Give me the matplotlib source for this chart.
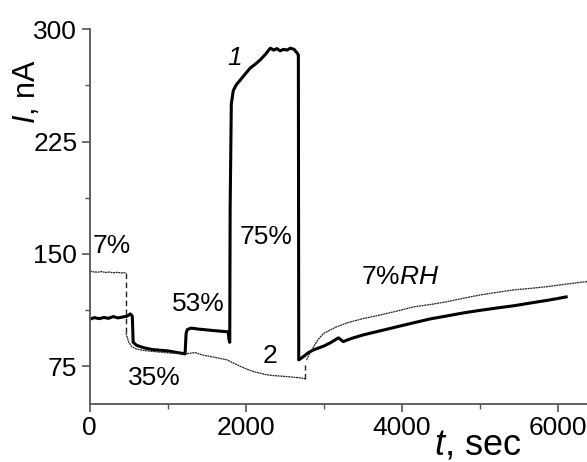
import numpy as np
import matplotlib
matplotlib.use("Agg")
from matplotlib import pyplot as plt
from matplotlib.ticker import MultipleLocator

plt.rcParams['font.family'] = ['Liberation Sans', 'DejaVu Sans']
plt.rcParams['mathtext.fontset'] = 'custom'
plt.rcParams['mathtext.rm'] = 'Liberation Sans'
plt.rcParams['mathtext.it'] = 'Liberation Sans:italic'

# curve 1 (thick)
t1 = [0, 60, 120, 180, 240, 300, 360, 420, 480, 520, 545, 556, 600, 700, 800,
      1000, 1222, 1235, 1250, 1300, 1400, 1600, 1775, 1785, 1795, 1800, 1815,
      1840, 1880, 1930, 2000, 2057, 2120, 2186, 2250, 2315, 2360, 2400, 2440,
      2486, 2530, 2572, 2620, 2660, 2675, 2680, 2700, 2740, 2800, 2870, 3000,
      3086, 3190, 3250, 3350, 3510, 3750, 3950, 4150, 4372, 4600, 4800, 5000,
      5233, 5450, 5660, 5900, 6110]
i1 = [106.5, 107.5, 106.8, 107.6, 107.0, 108.2, 107.3, 107.9, 108.5, 110.0, 108.5,
      91.0, 89.0, 87.3, 86.2, 85.3, 83.3, 97.0, 99.5, 100.5, 99.8, 98.8, 98.0,
      93.0, 91.0, 180.0, 250.0, 259.0, 263.0, 266.0, 270.5, 274.0, 276.5, 279.5,
      283.0, 287.3, 286.0, 287.0, 285.5, 286.5, 286.0, 287.3, 286.5, 284.0, 282.7,
      79.3, 80.0, 81.5, 84.0, 86.0, 88.5, 90.7, 94.0, 91.5, 93.5, 96.0, 99.0,
      101.5, 104.0, 106.7, 108.8, 110.7, 112.3, 114.0, 115.5, 117.3, 119.3, 121.3]

# curve 2 (thin), plateau before the first switch
t2a = [0, 50, 100, 150, 200, 250, 300, 350, 400, 463]
i2a = [138.5, 138.0, 137.8, 138.2, 137.6, 137.9, 137.4, 137.7, 137.3, 137.5]
# curve 2 between the switches
t2b = [463, 500, 540, 600, 700, 800, 1000, 1222, 1300, 1350, 1450, 1600, 1760,
       1850, 1930, 2020, 2100, 2200, 2276, 2360, 2443, 2600, 2700, 2765]
i2b = [97.0, 91.0, 88.0, 86.5, 85.5, 85.0, 84.0, 83.3, 83.8, 84.2, 82.5, 81.0,
       79.3, 77.0, 75.0, 73.0, 71.5, 70.2, 69.3, 68.8, 68.5, 67.8, 67.3, 66.7]
# curve 2 after the last switch
t2c = [2780, 2820, 2870, 2930, 3000, 3150, 3300, 3500, 3730, 3950, 4156, 4400,
       4590, 4800, 5015, 5240, 5440, 5650, 5877, 6100, 6390]
i2c = [79.3, 83.5, 88.0, 93.0, 97.0, 101.0, 104.0, 106.8, 109.3, 112.0, 114.7,
       116.5, 118.2, 120.5, 122.7, 124.5, 126.0, 127.0, 128.2, 129.8, 131.6]
# dashed jumps of curve 2
jumps_t = [463, 2765]
jumps_i = [(137.5, 97.0), (66.7, 76.0)]

fig = plt.figure(figsize=(5.87, 4.62), dpi=100)
ax = fig.add_axes([0.153, 0.126, 0.85, 0.811])

ax.plot(t1, i1, color='black', lw=2.2, solid_joinstyle='round')
thin = dict(color='#222222', lw=0.9, ls=(0, (1.6, 0.5)))
ax.plot(t2a, i2a, **thin)
ax.plot(t2b, i2b, **thin)
ax.plot(t2c, i2c, **thin)
for t, (a, b) in zip(jumps_t, jumps_i):
    ax.plot([t, t], [a, b], color='#222222', lw=1.0, ls=(0, (4, 2.5)))

ax.set_xlim(0, 6400)
ax.set_ylim(50, 300)
ax.xaxis.set_major_locator(MultipleLocator(2000))
ax.xaxis.set_minor_locator(MultipleLocator(1000))
ax.yaxis.set_major_locator(MultipleLocator(75))
ax.yaxis.set_minor_locator(MultipleLocator(37.5))
ax.spines['top'].set_visible(False)
ax.spines['right'].set_visible(False)
for s in ('left', 'bottom'):
    ax.spines[s].set_color('#555555')
    ax.spines[s].set_linewidth(1.3)
ax.tick_params(which='major', length=6, width=1.2, color='#555555',
               labelsize=19, pad=3)
ax.tick_params(which='minor', length=3.5, width=1.0, color='#555555')

ax.text(-0.126, 0.832, r'$\mathit{I}$, nA', transform=ax.transAxes, rotation=90,
        fontsize=22, ha='center', va='center')
ax.text(0.778, -0.136, r'$\mathit{t}$, sec', transform=ax.transAxes,
        fontsize=26, ha='center', va='baseline')

fs = 19
ax.text(283, 155, '7%', fontsize=fs, ha='center', va='center')
ax.text(823, 67.3, '35%', fontsize=fs, ha='center', va='center')
ax.text(1390, 116.7, '53%', fontsize=fs, ha='center', va='center')
ax.text(2263, 161, '75%', fontsize=fs, ha='center', va='center')
ax.text(2315, 82, '2', fontsize=fs, ha='center', va='center')
ax.text(1852, 281, '1', fontsize=fs, style='italic', ha='center', va='center')
ax.text(3986, 134.7, r'7%$\mathit{RH}$', fontsize=fs, ha='center', va='center')

fig.savefig('out.png', dpi=100)
